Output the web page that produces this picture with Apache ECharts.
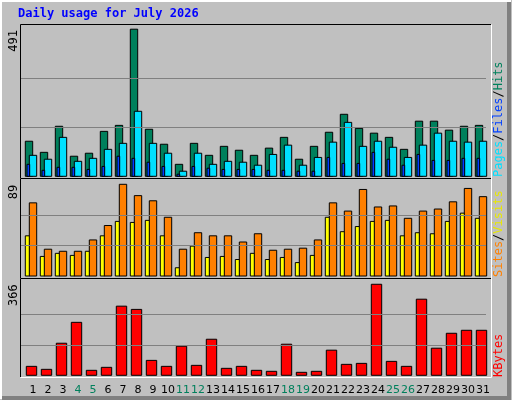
<!DOCTYPE html>
<html><head><meta charset="utf-8">
<script src="https://cdn.jsdelivr.net/npm/echarts@6/dist/echarts.min.js"></script>
<style>html,body{margin:0;padding:0;background:#c0c0c0}#c{width:512px;height:400px}</style>
</head><body><div id="c"></div>
<script>
const days = ['1','2','3','4','5','6','7','8','9','10','11','12','13','14','15','16','17','18','19','20','21','22','23','24','25','26','27','28','29','30','31'];
const weekends = ['4','5','11','12','18','19','25','26'];
const hits  = [117,80,167,67,77,150,170,491,157,107,40,110,70,100,87,70,94,130,57,100,147,207,160,144,130,90,184,184,154,167,170];
const files = [70,57,130,50,60,90,110,217,110,77,17,77,40,50,47,37,73,104,37,63,114,180,100,117,97,63,104,144,117,114,117];
const pages = [40,20,30,30,23,33,67,60,47,33,7,33,27,23,23,23,20,20,17,17,63,43,43,80,57,37,73,53,53,60,60];
const visits= [71,26,24,24,35,49,89,78,73,57,26,42,39,39,33,41,25,26,27,35,71,63,84,67,68,56,63,65,72,85,77];
const sites = [39,19,22,20,24,39,53,52,54,39,8,29,18,19,16,22,16,18,13,20,57,43,48,53,54,39,42,41,53,61,56];
const kbytes= [36,24,129,213,20,32,278,265,60,36,117,40,145,28,36,20,16,125,12,16,101,44,48,366,56,36,306,109,169,181,181];
const maxLabels = ['491','89','366'];

const panels = [{top:25,h:151.3,max:505,lab:491},{top:180.7,h:95.3,max:92.5,lab:89},{top:280.3,h:95,max:382,lab:366}];
const gridL=21, gridW=465;

function bars(name, data, gi, x0, x1, color, z){
  return {type:'custom', name, xAxisIndex:gi, yAxisIndex:gi, z,
    data: data.map((v,i)=>[i,v]), encode:{x:0,y:1},
    renderItem:(p,api)=>{
      const top=api.coord([api.value(0),api.value(1)]);
      const bot=api.coord([api.value(0),0]);
      return {type:'rect', shape:{x:top[0]+x0, y:top[1], width:x1-x0, height:bot[1]-top[1]},
        style:{fill:color, stroke:'#000', lineWidth:1}};
    }};
}
function gridLines(gi, m){
  return {type:'line', xAxisIndex:gi, yAxisIndex:gi, data:[], silent:true,
    markLine:{silent:true, symbol:'none', label:{show:false}, lineStyle:{color:'#808080', type:'solid', width:1},
      data:[{yAxis:m/3},{yAxis:2*m/3}]}, z:1};
}
const grids = panels.map(p=>({left:gridL, top:p.top, width:gridW, height:p.h}));
const xAxes = panels.map((p,i)=>({type:'category', gridIndex:i, data:days, boundaryGap:true,
  axisLine:{show:false}, axisTick:{show:false},
  axisLabel:{show:i===2, interval:0, margin:9, padding:[0,0,0,9], fontFamily:'DejaVu Sans', fontSize:11,
    color:(v)=>weekends.includes(v)?'#00805c':'#000'}}));
const yAxes = panels.map((p,i)=>({type:'value', gridIndex:i, min:0, max:p.max, show:false, splitLine:{show:false}}));

const graphic = [
  {type:'rect', shape:{x:0,y:0,width:512,height:400}, style:{fill:'#c0c0c0'}, z:-10, silent:true},
  {type:'polyline', shape:{points:[[1,399],[1,1],[511,1]]}, style:{stroke:'#fff',lineWidth:2,fill:null}, z:-9},
  {type:'polyline', shape:{points:[[509,2],[509,398],[2,398]]}, style:{stroke:'#808080',lineWidth:4,fill:null}, z:-9},
  {type:'text', left:18, top:8, style:{text:'Daily usage for July 2026', fill:'#0000ff', font:'bold 12px "DejaVu Sans Mono"'}},
];
const panelBox=[[24.5,178],[178.5,278],[278.5,377]];
panelBox.forEach(([t,b])=>{
  graphic.push({type:'polyline', shape:{points:[[20.5,b],[20.5,t],[491,t]]}, style:{stroke:'#000',lineWidth:1,fill:null}, z:-5});
  graphic.push({type:'polyline', shape:{points:[[491.5,t],[491.5,b+0.5],[20.5,b+0.5]]}, style:{stroke:'#fff',lineWidth:1,fill:null}, z:-5});
});
panels.forEach((p,i)=>{
  graphic.push({type:'text', x:8, y:p.top+ (i===0?5:4), rotation:Math.PI/2, style:{text:maxLabels[i], fill:'#000', font:'12px "DejaVu Sans Mono"', align:'right', verticalAlign:'top'}});
});
function sideLabel(y, parts){
  graphic.push({type:'text', x:493, y, rotation:Math.PI/2, style:{
    rich:Object.fromEntries(parts.map((pp,k)=>['s'+k,{fill:pp[1], font:'12px "DejaVu Sans Mono"'}])),
    text:parts.map((pp,k)=>'{s'+k+'|'+pp[0]+'}').join(''), verticalAlign:'top', align:'left'}});
}
sideLabel(177, [['Pages','#00e0ff'],['/','#000'],['Files','#0040ff'],['/','#000'],['Hits','#00805c']]);
sideLabel(277, [['Sites','#ff8000'],['/','#000'],['Visits','#e8e800']]);
sideLabel(377, [['KBytes','#ff0000']]);

const series = [
  gridLines(0,491), gridLines(1,89), gridLines(2,366),
  bars('Hits', hits, 0, -3.2, 4.2, '#00805c', 2),
  bars('Files', files, 0, 0.8, 8.2, '#00e0ff', 3),
  bars('Pages', pages, 0, -1.5, 1.2, '#0040ff', 4),
  bars('Sites', sites, 1, -3.2, 1.2, '#ffff00', 2),
  bars('Visits', visits, 1, 0.8, 8.2, '#ff8000', 3),
  bars('KBytes', kbytes, 2, -2.2, 8.2, '#ff0000', 2),
];
const chart = echarts.init(document.getElementById('c'), null, {renderer:'canvas'});
chart.setOption({animation:false, backgroundColor:'#c0c0c0', grid:grids, xAxis:xAxes, yAxis:yAxes, series, graphic});
</script></body></html>
